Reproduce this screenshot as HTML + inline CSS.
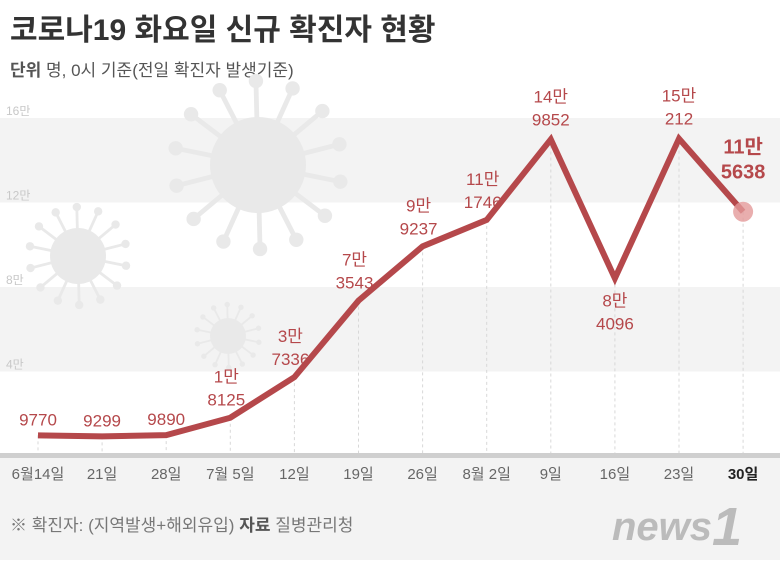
<!DOCTYPE html>
<html><head><meta charset="utf-8"><style>
body{margin:0;width:780px;height:560px;overflow:hidden;background:#fff;font-family:"Liberation Sans","Noto Sans CJK KR",sans-serif}
</style></head><body>
<svg id="c" width="780" height="560" xmlns="http://www.w3.org/2000/svg" style="font-family:'Liberation Sans','Noto Sans CJK KR',sans-serif">
<rect x="0" y="456" width="780" height="104" fill="#f3f3f3"/>
<text x="10" y="40" font-size="30" font-weight="bold" fill="#333">코로나19 화요일 신규 확진자 현황</text>
<text x="10" y="76" font-size="17" fill="#555"><tspan font-weight="bold">단위</tspan> 명, 0시 기준(전일 확진자 발생기준)</text>
<g id="bands"></g>
<g id="virus" fill="#e9e9e9" stroke="#e9e9e9"></g>
<g id="grid"></g>
<rect x="0" y="453" width="780" height="5" fill="#cfcfcf"/>
<g id="xlabels"></g>
<g id="line"></g>
<text x="10" y="531" font-size="17" fill="#777">※ 확진자: (지역발생+해외유입) <tspan font-weight="bold" fill="#555">자료</tspan> 질병관리청</text>
<text x="612" y="540" font-size="40" font-weight="bold" font-style="italic" fill="#bbb">news</text>
<text x="712" y="545" font-size="54" font-weight="bold" font-style="italic" fill="#bbb">1</text>
</svg>
<script>
const categories=["6월14일","21일","28일","7월 5일","12일","19일","26일","8월 2일","9일","16일","23일","30일"];
const values=[9770,9299,9890,18125,37336,73543,99237,111746,149852,84096,150212,115638];
const labelTop=["","","","1만","3만","7만","9만","11만","14만","8만","15만","11만"];
const labelBottom=["9770","9299","9890","8125","7336","3543","9237","1746","9852","4096","212","5638"];
const yTicks=[40000,80000,120000,160000];
const yTickLabels=["4만","8만","12만","16만"];
const NS="http://www.w3.org/2000/svg";
const X=i=>38+i*64.1;
const Y=v=>456-v*84.5/40000;
function mk(tag,attrs,parent,txt){const e=document.createElementNS(NS,tag);for(const k in attrs)e.setAttribute(k,attrs[k]);if(txt!=null)e.textContent=txt;document.getElementById(parent).appendChild(e);return e;}
[[160000,120000],[80000,40000]].forEach(b=>{
 const r=mk('rect',{x:0,y:Y(b[0]),width:780,height:Y(b[1])-Y(b[0]),fill:'#f3f3f3'},'bands');
 
 
});
yTicks.forEach((t,i)=>{
 const e=mk('text',{x:6,y:Y(t)-3,'font-size':12,fill:'#c8c8c8'},'grid',yTickLabels[i]);
 
 
});
function virus(cx,cy,r,n){
 for(let k=0;k<n;k++){const a=k/n*Math.PI*2+0.2;const x2=cx+Math.cos(a)*r*1.75,y2=cy+Math.sin(a)*r*1.75;
  mk('line',{x1:cx,y1:cy,x2:x2,y2:y2,'stroke-width':r*0.1},'virus');
  mk('circle',{cx:x2,cy:y2,r:r*0.15,stroke:'none'},'virus');}
 mk('circle',{cx:cx,cy:cy,r:r,stroke:'none'},'virus');
}
virus(258,165,48,14);virus(78,256,28,14);virus(228,336,18,14);
categories.forEach((c,i)=>{
 const l=mk('line',{x1:X(i),x2:X(i),y1:Y(values[i]),y2:453,stroke:'#d8d8d8','stroke-dasharray':'3,3'},'grid');
 
 
 const t=mk('text',{x:X(i),y:479,'text-anchor':'middle','font-size':15,fill:i==11?'#222':'#666','font-weight':i==11?'bold':'normal'},'xlabels',c);
 
 
});
const p=mk('polyline',{points:values.map((v,i)=>X(i)+','+Y(v)).join(' '),fill:'none',stroke:'#b5484b','stroke-width':6,'stroke-linejoin':'miter'},'line');


const hl=mk('circle',{cx:X(11),cy:Y(values[11]),r:10,fill:'#e39a9a',opacity:0.8},'line');


values.forEach((v,i)=>{
 let ty,by,x=X(i);
 if(i<3){by=Y(v)-10;}
 else if(i==9){ty=Y(v)+28;by=Y(v)+51;}
 else if(i==11){ty=Y(v)-58;by=Y(v)-33;}
 else if(i<8){x=X(i)-4;ty=Y(v)-35;by=Y(v)-12;}
 else{ty=Y(v)-37;by=Y(v)-14;}
 const bold=i==11;const fs=bold?20:17;
 if(labelTop[i]){const a=mk('text',{x:x,y:ty,'text-anchor':'middle','font-size':fs,fill:'#b5484b','font-weight':bold?'bold':'normal'},'line',labelTop[i]);
  
  }
 const b=mk('text',{x:x,y:by,'text-anchor':'middle','font-size':fs,fill:'#b5484b','font-weight':bold?'bold':'normal'},'line',labelBottom[i]);
 
 
});
</script>
</body></html>
